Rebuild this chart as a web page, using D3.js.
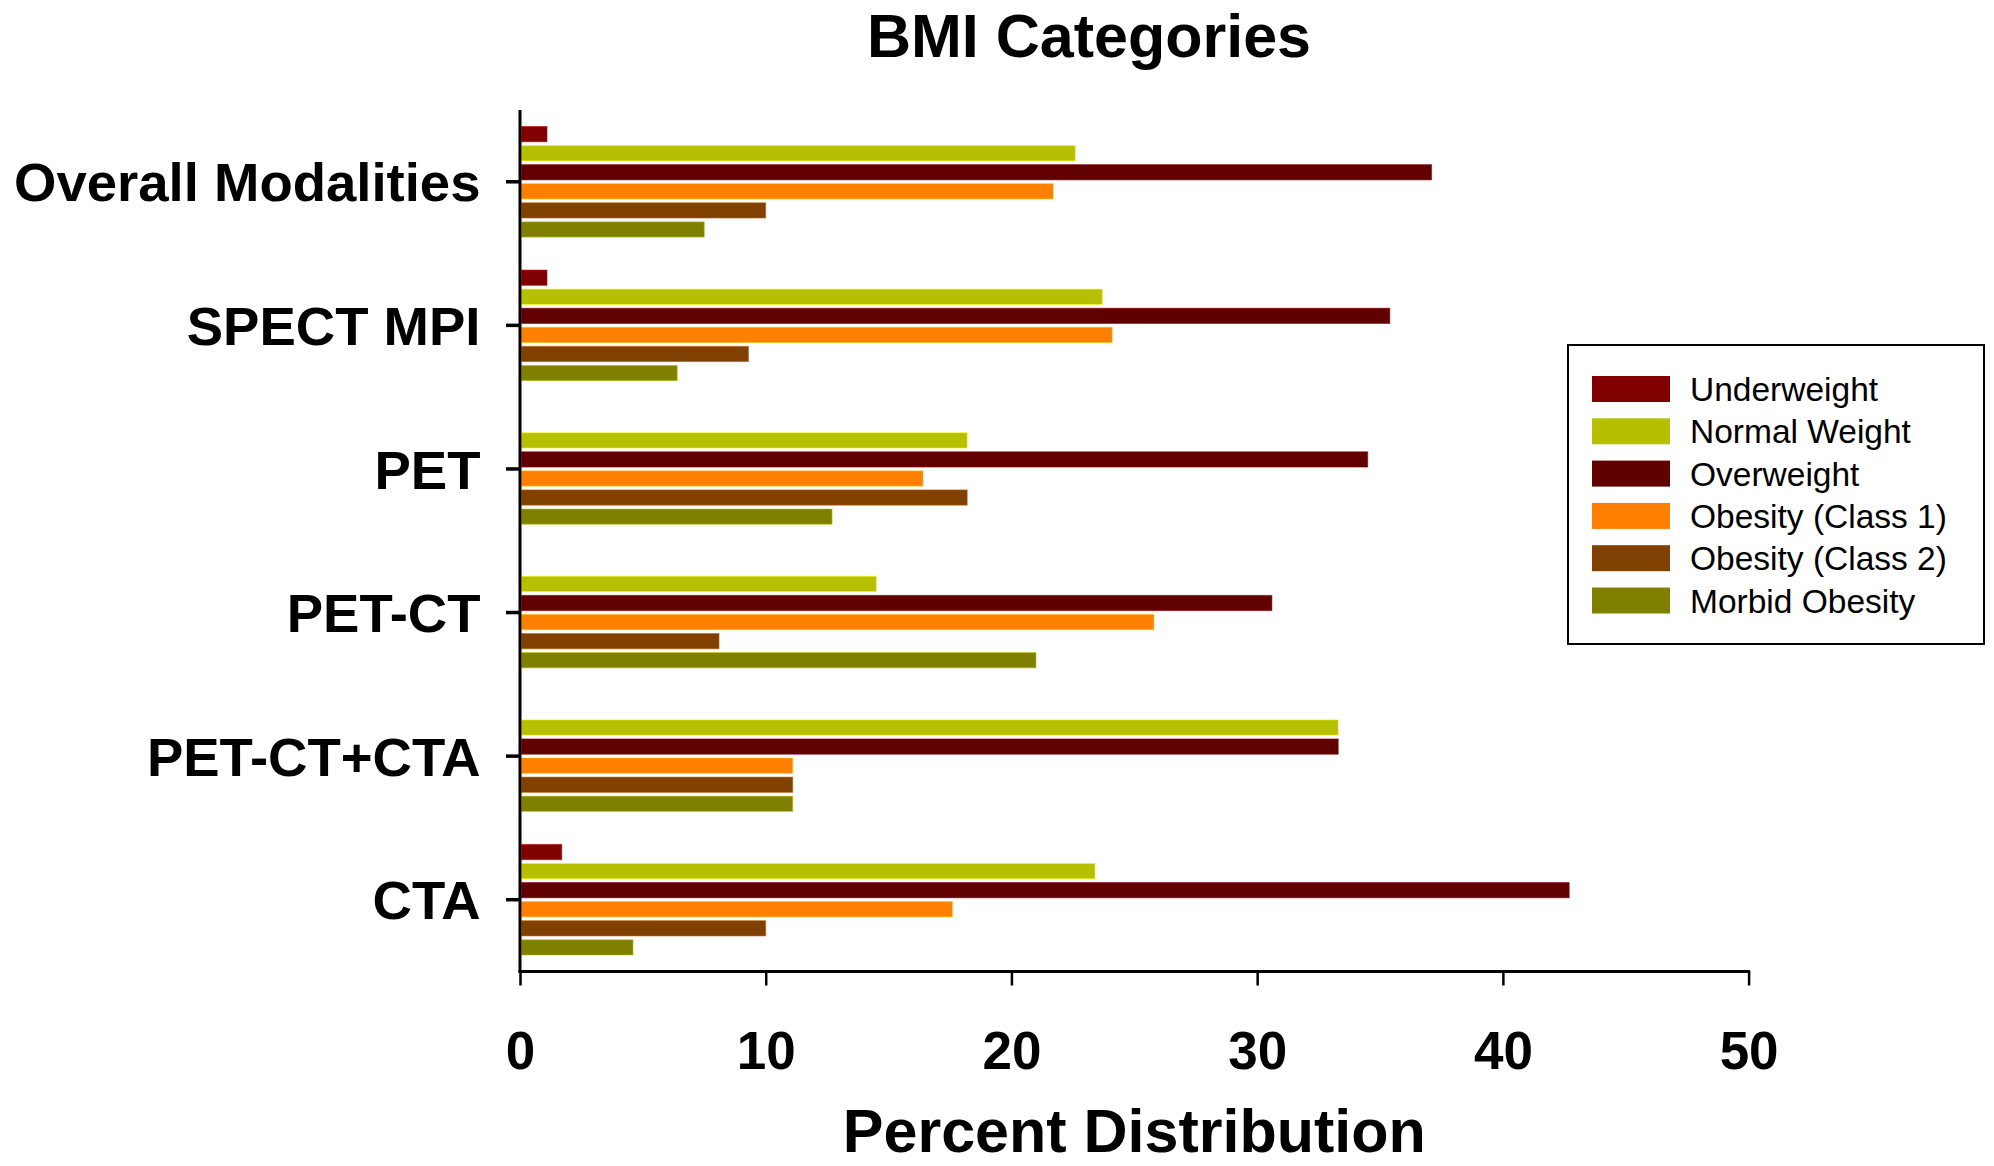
<!DOCTYPE html>
<html>
<head>
<meta charset="utf-8">
<script src="https://cdn.jsdelivr.net/npm/d3@7/dist/d3.min.js"></script>
<style>
  html, body { margin: 0; padding: 0; background: #fff; }
  svg { display: block; }
  text { font-family: "Liberation Sans", Arial, Helvetica, sans-serif; fill: #000; }
</style>
</head>
<body>
<svg id="chart" width="1994" height="1166"></svg>
<script>
// Imaging modalities (rows) and BMI classes (bars within each row)
const categories = ["Overall Modalities", "SPECT MPI", "PET", "PET-CT", "PET-CT+CTA", "CTA"];
const series = ["Underweight", "Normal Weight", "Overweight", "Obesity (Class 1)", "Obesity (Class 2)", "Morbid Obesity"];
const seriesColors = ["#800000", "#b6bf00", "#600000", "#ff8000", "#804000", "#808000"];

// Percent distribution per modality, in the order of `categories`
const underweight  = [1.1, 1.1, 0, 0, 0, 1.7];
const normalWeight = [22.6, 23.7, 18.2, 14.5, 33.3, 23.4];
const overweight   = [37.1, 35.4, 34.5, 30.6, 33.3, 42.7];
const obesity1     = [21.7, 24.1, 16.4, 25.8, 11.1, 17.6];
const obesity2     = [10.0, 9.3, 18.2, 8.1, 11.1, 10.0];
const morbid       = [7.5, 6.4, 12.7, 21.0, 11.1, 4.6];

const xTicks = [0, 10, 20, 30, 40, 50];

const seriesValues = [underweight, normalWeight, overweight, obesity1, obesity2, morbid];

const rows = [];
categories.forEach((c, i) => {
  series.forEach((s, j) => {
    rows.push({ category: c, series: s, value: seriesValues[j][i], color: seriesColors[j] });
  });
});

const svg = d3.select("#chart");

const plot = { left: 520, right: 1748.6, top: 110, bottom: 971.5 };

const x = d3.scaleLinear().domain([0, 50]).range([plot.left, plot.right]);
const y0 = d3.scaleBand().domain(categories).range([plot.top, plot.bottom]).padding(0);
const y1 = d3.scaleBand().domain(series).range([0, y0.bandwidth()])
  .paddingInner(0.198).paddingOuter(0.864);

// Title
svg.append("text")
  .attr("x", 1089).attr("y", 57)
  .attr("text-anchor", "middle")
  .style("font-size", "61px").style("font-weight", "bold")
  .text("BMI Categories");

// Bars
svg.append("g").selectAll("rect")
  .data(rows.filter(d => d.value > 0))
  .join("rect")
  .attr("x", x(0) + 1.5)
  .attr("y", d => y0(d.category) + y1(d.series))
  .attr("width", d => x(d.value) - x(0) - 1.5)
  .attr("height", y1.bandwidth())
  .attr("fill", d => d.color)
  .attr("stroke", d => d3.color(d.color).brighter(1.2))
  .attr("stroke-opacity", 0.55)
  .attr("stroke-width", 1);

// Y axis
const yAxis = svg.append("g")
  .attr("transform", `translate(${plot.left},0)`)
  .call(d3.axisLeft(y0).tickSize(14).tickPadding(25.5));
yAxis.select(".domain").attr("stroke", "#000").attr("stroke-width", 3)
  .attr("d", `M0,${plot.top}V${plot.bottom + 1.5}`);
yAxis.selectAll(".tick line").attr("stroke", "#000").attr("stroke-width", 3.5);
yAxis.selectAll(".tick text")
  .style("font-size", "54.5px").style("font-weight", "bold")
  .attr("dy", "0.36em")
  .attr("fill", "#000");

// X axis
const xAxis = svg.append("g")
  .attr("transform", `translate(0,${plot.bottom})`)
  .call(d3.axisBottom(x).tickValues(xTicks).tickFormat(d3.format("d")).tickSize(14).tickPadding(46));
xAxis.select(".domain").attr("stroke", "#000").attr("stroke-width", 3)
  .attr("d", `M${plot.left - 1.5},0H${plot.right + 1.5}`);
xAxis.selectAll(".tick line").attr("stroke", "#000").attr("stroke-width", 2.5);
xAxis.selectAll(".tick text")
  .style("font-size", "53px").style("font-weight", "bold")
  .attr("dy", "0.71em")
  .attr("fill", "#000");

// X axis title
svg.append("text")
  .attr("x", (plot.left + plot.right) / 2).attr("y", 1152)
  .attr("text-anchor", "middle")
  .style("font-size", "61px").style("font-weight", "bold")
  .text("Percent Distribution");

// Legend
const legend = svg.append("g").attr("transform", "translate(1568,345)");
legend.append("rect")
  .attr("x", 0).attr("y", 0).attr("width", 416).attr("height", 299)
  .attr("fill", "#fff").attr("stroke", "#000").attr("stroke-width", 2);
const item = legend.selectAll("g.item")
  .data(series)
  .join("g").attr("class", "item")
  .attr("transform", (d, i) => `translate(24,${31 + i * 42.3})`);
item.append("rect")
  .attr("width", 78).attr("height", 26)
  .attr("fill", (d, i) => seriesColors[i]);
item.append("text")
  .attr("x", 98).attr("y", 25)
  .style("font-size", "33.5px")
  .text(d => d);
</script>
</body>
</html>
